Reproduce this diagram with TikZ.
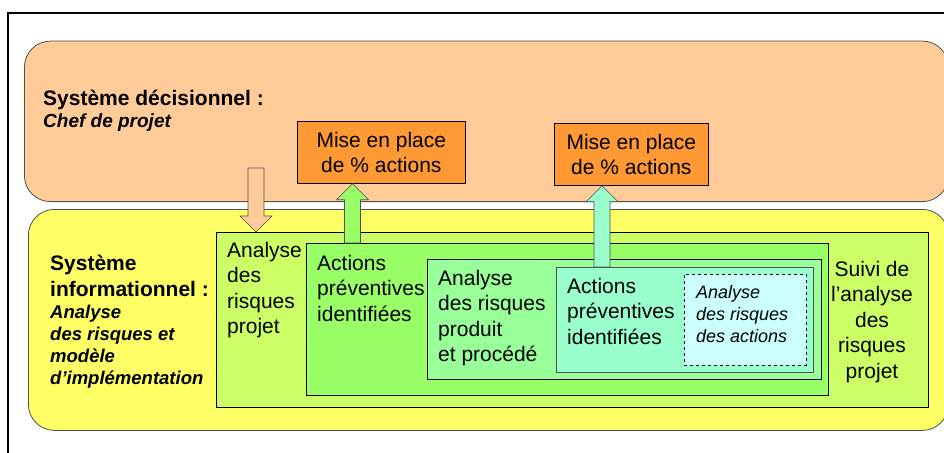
\documentclass[tikz,border=0pt]{standalone}
\usepackage{fontspec}
\setmainfont{Liberation Sans}
\usetikzlibrary{calc}
\definecolor{peach}{HTML}{FFCC99}
\definecolor{miseorange}{HTML}{FF9933}
\definecolor{infoyellow}{HTML}{FFFF66}
\definecolor{lime}{HTML}{CCFF66}
\definecolor{grassgreen}{HTML}{99FF66}
\definecolor{mintgreen}{HTML}{99FF99}
\definecolor{aquagreen}{HTML}{99FFCC}
\definecolor{palecyan}{HTML}{CCFFFF}
\definecolor{edgegray}{HTML}{505050}

% block arrow between two points on one vertical line
\newcommand{\blockarrow}[3]{%
  \draw[arrowline,fill=#1] let \p1=(#2), \p2=(#3), \n1={ifthenelse(\y2>\y1,1,-1)} in
    (\x1-8pt,\y1) -- (\x1-8pt,\y2-\n1*16pt) -- (\x1-16pt,\y2-\n1*16pt) -- (\x2,\y2)
    -- (\x1+16pt,\y2-\n1*16pt) -- (\x1+8pt,\y2-\n1*16pt) -- (\x1+8pt,\y1) -- cycle;}

\begin{document}
\begin{tikzpicture}[x=1pt,y=-1pt,line join=miter,
  sysbox/.style={draw=edgegray,line width=0.8pt,rounded corners=26pt,inner sep=0pt,anchor=north west},
  box/.style={draw=black,line width=0.7pt,inner sep=0pt,anchor=north west},
  misebox/.style={box,align=center,font=\fontsize{21}{25}\selectfont},
  txt/.style={inner sep=0pt,align=left,anchor=base west,font=\fontsize{21}{25.5}\selectfont},
  itxt/.style={txt,font=\fontsize{18}{22}\selectfont\itshape},
  headtxt/.style={txt,font=\fontsize{21}{26}\selectfont\bfseries},
  subtxt/.style={txt,font=\fontsize{18.5}{22.3}\selectfont\bfseries\itshape},
  arrowline/.style={draw=edgegray,line width=0.6pt}]
  \useasboundingbox (0,0) rectangle (944,452);

  % Outer frame
  \draw[line width=2pt] (8,470) -- (8,12.7) -- (960,12.7);

  % Decision system (text nodes sit on the baseline of their last line)
  \node[sysbox,fill=peach,minimum width=924,minimum height=160.5] (dec) at (24,40.7) {};
  \node[headtxt] (decT) at (43,105) {Système décisionnel :};
  \node[subtxt,font=\fontsize{19}{22}\selectfont\bfseries\itshape] (decS) at (43,127) {Chef de projet};
  \node[misebox,fill=miseorange,minimum width=168,minimum height=62] (mise1) at (297,121)
    {Mise en place\\de \% actions};
  \node[misebox,fill=miseorange,minimum width=154,minimum height=62] (mise2) at (554,123)
    {Mise en place\\de \% actions};

  % Information system
  \node[sysbox,fill=infoyellow,minimum width=920,minimum height=221] (info) at (28,209) {};
  \node[headtxt] (infoT) at (50,296) {Système\\informationnel :};
  \node[subtxt] (infoS) at (50,384.9) {Analyse\\des risques et\\modèle\\d’implémentation};

  % Nested analysis boxes
  \node[box,fill=lime,minimum width=712,minimum height=175] (riskP) at (216,232) {};
  \node[box,fill=grassgreen,minimum width=522,minimum height=152] (actP) at (306,243) {};
  \node[box,fill=mintgreen,minimum width=394,minimum height=120] (riskPP) at (427,259) {};
  \node[box,draw=edgegray,fill=aquagreen,minimum width=257,minimum height=105] (actI) at (556,267) {};
  \node[box,dashed,fill=palecyan,minimum width=122,minimum height=91] (riskA) at (684,274) {};

  \node[txt] (riskPT) at (227,333.5) {Analyse\\des\\risques\\projet};
  \node[txt] (actPT) at (317,321) {Actions\\préventives\\identifiées};
  \node[txt] (riskPPT) at (438,361.5) {Analyse\\des risques\\produit\\et procédé};
  \node[txt] (actIT) at (567,344) {Actions\\préventives\\identifiées};
  \node[itxt] (riskAT) at (696,342) {Analyse\\des risques\\des actions};
  \node[txt,align=center,anchor=base] (suivi) at (872,378) {Suivi de\\l’analyse\\des\\risques\\projet};

  % Block arrows between the two systems
  \coordinate (d1) at (256,168);
  \coordinate (u1) at (352.5,0);
  \coordinate (u2) at (602,0);
  \blockarrow{peach}{d1}{d1 |- riskP.north}
  \blockarrow{grassgreen}{u1 |- actP.north}{u1 |- mise1.south}
  \blockarrow{aquagreen}{u2 |- actI.north}{u2 |- mise2.south}
\end{tikzpicture}
\end{document}
